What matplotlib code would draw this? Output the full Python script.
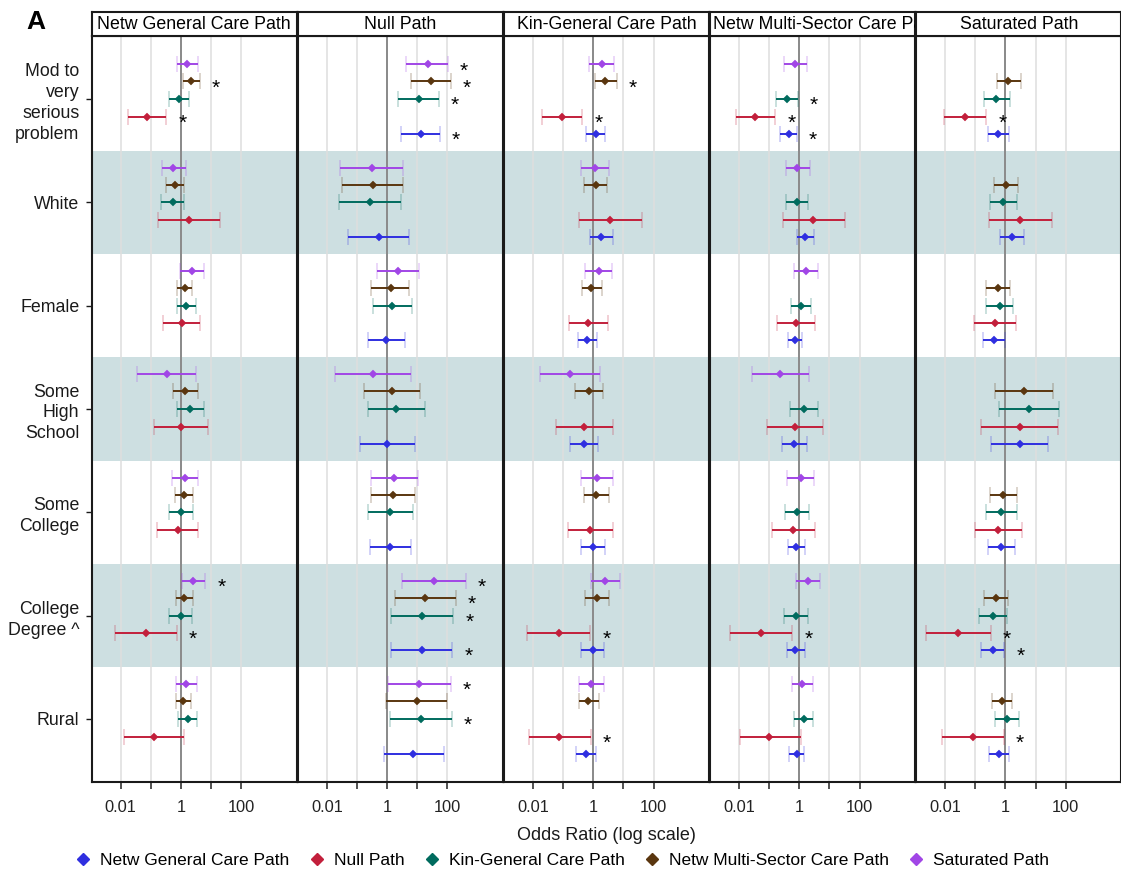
import numpy as np
import matplotlib
matplotlib.use("Agg")
import matplotlib.pyplot as plt
from matplotlib.lines import Line2D

plt.rcParams["font.family"] = ["Liberation Sans", "DejaVu Sans"]

# ── Data (odds ratios) ──────────────────────────────────────────────────────
categories = ["Mod to\nvery\nserious\nproblem", "White", "Female",
              "Some\nHigh\nSchool", "Some\nCollege", "College\nDegree ^", "Rural"]

path_keys = ["NG", "NU", "KG", "MS", "SA"]
path_names = {
    "NG": "Netw General Care Path",
    "NU": "Null Path",
    "KG": "Kin-General Care Path",
    "MS": "Netw Multi-Sector Care Path",
    "SA": "Saturated Path",
}
path_colors = {
    "NG": "#2f2fe0",
    "NU": "#c21f3b",
    "KG": "#006b5e",
    "MS": "#5a360f",
    "SA": "#a146e6",
}

# Panel 1: Netw General Care Path
ng_est = {"SA": [1.62, 0.562, 2.29, 0.331, 1.32, 2.57, 1.51],
          "MS": [2.14, 0.617, 1.35, 1.38, 1.23, 1.29, 1.20],
          "KG": [0.832, 0.525, 1.51, 2.04, 0.977, 0.977, 1.66],
          "NU": [0.076, 1.86, 1.05, 0.977, 0.776, 0.069, 0.123]}
ng_lo = {"SA": [0.72, 0.24, 0.955, 0.036, 0.49, 1.05, 0.708],
         "MS": [1.12, 0.309, 0.759, 0.55, 0.617, 0.661, 0.661],
         "KG": [0.389, 0.219, 0.741, 0.724, 0.398, 0.407, 0.813],
         "NU": [0.0178, 0.178, 0.251, 0.123, 0.162, 0.0066, 0.0129]}
ng_hi = {"SA": [3.63, 1.41, 5.62, 3.02, 3.63, 6.46, 3.31],
         "MS": [4.17, 1.23, 2.40, 3.55, 2.45, 2.51, 2.19],
         "KG": [1.82, 1.23, 3.24, 5.75, 2.51, 2.29, 3.39],
         "NU": [0.324, 19.1, 4.37, 8.13, 3.63, 0.724, 1.29]}
ng_sig = {"SA": [0, 0, 0, 0, 0, 1, 0],
          "MS": [1, 0, 0, 0, 0, 0, 0],
          "NU": [1, 0, 0, 0, 0, 1, 0]}

# Panel 2: Null Path
nu_est = {"SA": [21.9, 0.309, 2.24, 0.331, 1.66, 35.5, 11.7],
          "MS": [27.5, 0.331, 1.32, 1.41, 1.55, 18.2, 9.55],
          "KG": [11.0, 0.275, 1.45, 1.95, 1.29, 14.1, 12.9],
          "NG": [12.9, 0.537, 0.912, 1.0, 1.23, 14.1, 7.41]}
nu_lo = {"SA": [4.17, 0.028, 0.447, 0.0182, 0.288, 3.02, 1.10],
         "MS": [6.31, 0.032, 0.302, 0.166, 0.302, 1.78, 0.912],
         "KG": [2.29, 0.025, 0.331, 0.224, 0.224, 1.32, 1.29],
         "NG": [2.95, 0.052, 0.224, 0.123, 0.263, 1.38, 0.776]}
nu_hi = {"SA": [102, 3.47, 11.0, 6.31, 10.2, 417, 132],
         "MS": [129, 3.39, 5.50, 12.0, 8.13, 191, 97.7],
         "KG": [52.5, 2.95, 6.46, 17.4, 7.41, 158, 138],
         "NG": [56.2, 5.50, 3.80, 8.13, 6.03, 145, 75.9]}
nu_sig = {"SA": [1, 0, 0, 0, 0, 1, 1],
          "MS": [1, 0, 0, 0, 0, 1, 0],
          "KG": [1, 0, 0, 0, 0, 1, 1],
          "NG": [1, 0, 0, 0, 0, 1, 0]}

# Panel 3: Kin-General Care Path
kg_est = {"SA": [1.95, 1.12, 1.51, 0.166, 1.35, 2.45, 0.851],
          "MS": [2.51, 1.23, 0.832, 0.724, 1.23, 1.32, 0.692],
          "NU": [0.091, 3.63, 0.692, 0.513, 0.794, 0.071, 0.076],
          "NG": [1.20, 1.86, 0.631, 0.501, 0.977, 1.0, 0.562]}
kg_lo = {"SA": [0.724, 0.398, 0.55, 0.0174, 0.407, 0.832, 0.347],
         "MS": [1.17, 0.513, 0.417, 0.251, 0.49, 0.537, 0.339],
         "NU": [0.0195, 0.339, 0.155, 0.058, 0.148, 0.0063, 0.0072],
         "NG": [0.562, 0.794, 0.309, 0.174, 0.398, 0.407, 0.275]}
kg_hi = {"SA": [5.01, 3.24, 4.27, 1.66, 4.47, 7.76, 2.29],
         "MS": [6.03, 2.88, 1.95, 2.04, 3.24, 3.24, 1.51],
         "NU": [0.437, 39.8, 3.09, 4.37, 4.37, 0.794, 0.832],
         "NG": [2.45, 4.47, 1.35, 1.45, 2.40, 2.29, 1.20]}
kg_sig = {"MS": [1, 0, 0, 0, 0, 0, 0],
          "NU": [1, 0, 0, 0, 0, 1, 1]}

# Panel 4: Netw Multi-Sector Care Path
ms_est = {"SA": [0.741, 0.851, 1.66, 0.234, 1.10, 1.95, 1.23],
          "KG": [0.38, 0.813, 1.12, 1.38, 0.813, 0.759, 1.38],
          "NU": [0.035, 2.95, 0.759, 0.724, 0.631, 0.055, 0.102],
          "NG": [0.457, 1.58, 0.724, 0.692, 0.759, 0.741, 0.813]}
ms_lo = {"SA": [0.302, 0.372, 0.692, 0.0275, 0.398, 0.759, 0.562],
         "KG": [0.17, 0.363, 0.513, 0.49, 0.331, 0.309, 0.661],
         "NU": [0.0078, 0.295, 0.182, 0.085, 0.126, 0.0052, 0.0105],
         "NG": [0.234, 0.813, 0.417, 0.275, 0.417, 0.38, 0.457]}
ms_hi = {"SA": [1.86, 2.24, 4.27, 2.14, 3.09, 5.01, 2.75],
         "KG": [0.891, 1.95, 2.45, 4.07, 2.14, 1.95, 2.95],
         "NU": [0.162, 31.6, 3.24, 6.03, 3.24, 0.589, 1.10],
         "NG": [0.832, 3.09, 1.26, 1.78, 1.58, 1.51, 1.45]}
ms_sig = {"KG": [1, 0, 0, 0, 0, 0, 0],
          "NU": [1, 0, 0, 0, 0, 1, 0],
          "NG": [1, 0, 0, 0, 0, 0, 0]}

# Panel 5: Saturated Path
sa_est = {"MS": [1.26, 1.07, 0.589, 4.27, 0.851, 0.501, 0.759],
          "KG": [0.501, 0.832, 0.661, 5.89, 0.741, 0.38, 1.12],
          "NU": [0.046, 3.02, 0.447, 2.95, 0.589, 0.0275, 0.083],
          "NG": [0.589, 1.62, 0.417, 2.95, 0.724, 0.38, 0.617]}
sa_lo = {"MS": [0.537, 0.417, 0.234, 0.457, 0.309, 0.20, 0.347],
         "KG": [0.19, 0.309, 0.234, 0.617, 0.224, 0.129, 0.437],
         "NU": [0.0093, 0.275, 0.093, 0.155, 0.095, 0.0023, 0.0078],
         "NG": [0.257, 0.676, 0.182, 0.324, 0.269, 0.151, 0.282]}
sa_hi = {"MS": [3.24, 2.63, 1.45, 38.0, 2.51, 1.26, 1.66],
         "KG": [1.38, 2.51, 1.82, 57.5, 2.45, 1.17, 2.75],
         "NU": [0.234, 35.5, 2.19, 55.0, 3.55, 0.324, 0.891],
         "NG": [1.35, 4.27, 0.933, 26.3, 2.0, 0.912, 1.35]}
sa_sig = {"NU": [1, 0, 0, 0, 0, 1, 1],
          "NG": [0, 0, 0, 0, 0, 1, 0]}

panels = [
    ("NG", ng_est, ng_lo, ng_hi, ng_sig),
    ("NU", nu_est, nu_lo, nu_hi, nu_sig),
    ("KG", kg_est, kg_lo, kg_hi, kg_sig),
    ("MS", ms_est, ms_lo, ms_hi, ms_sig),
    ("SA", sa_est, sa_lo, sa_hi, sa_sig),
]

# vertical dodge within a row (axis is inverted: positive = lower)
dodge = {"SA": -0.335, "MS": -0.17, "KG": 0.0, "NU": 0.17, "NG": 0.335}

BAND_COLOR = "#cddfe1"
GRID_COLOR = "#dedede"
REF_COLOR = "#8a8a8a"

# ── Layout (pixel based) ────────────────────────────────────────────────────
FIG_W, FIG_H = 1121, 875
LEFT, RIGHT = 92, 1121
TOP, BOTTOM, STRIP_TOP = 36, 782, 12
GAP = 1.5

fig = plt.figure(figsize=(FIG_W / 100, FIG_H / 100), dpi=100)
pw = (RIGHT - LEFT - 4 * GAP) / 5

y_pos = np.arange(len(categories))
xticks = [0.01, 0.1, 1, 10, 100]
xticklabels = ["0.01", "", "1", "", "100"]

for i, (key, est, lo, hi, sig) in enumerate(panels):
    x0 = LEFT + i * (pw + GAP)
    ax = fig.add_axes([x0 / FIG_W, 1 - BOTTOM / FIG_H, pw / FIG_W, (BOTTOM - TOP) / FIG_H])
    sax = fig.add_axes([x0 / FIG_W, 1 - TOP / FIG_H, pw / FIG_W, (TOP - STRIP_TOP) / FIG_H])

    ax.set_xscale("log")
    ax.set_xlim(10 ** -2.95, 10 ** 3.83)
    ax.set_ylim(6.61, -0.61)

    # shaded rows
    for r in (1, 3, 5):
        ax.axhspan(r - 0.5, r + 0.5, color=BAND_COLOR, lw=0, zorder=0)
    for xt in xticks:
        ax.axvline(xt, color=GRID_COLOR, lw=1.1, zorder=1)
    ax.axvline(1, color=REF_COLOR, lw=1.4, zorder=2)

    for sk in ["SA", "MS", "KG", "NU", "NG"]:
        if sk not in est:
            continue
        e = np.array(est[sk])
        l = np.array(lo[sk])
        h = np.array(hi[sk])
        yy = y_pos + dodge[sk]
        c = path_colors[sk]
        ax.errorbar(e, yy, xerr=[e - l, h - e], fmt="D", ms=4.2, mew=0.3,
                    color=c, ecolor=c, elinewidth=1.4, capsize=5.5,
                    capthick=1.5, zorder=4)
        for j, s in enumerate(sig.get(sk, [0] * len(categories))):
            if s:
                ax.annotate("*", xy=(h[j] * 10 ** 0.53, yy[j]), xytext=(0, -8.6),
                            textcoords="offset points", ha="center", va="baseline",
                            fontsize=15, color="black", zorder=5)

    ax.set_xticks(xticks)
    ax.set_xticklabels(xticklabels)
    ax.xaxis.set_minor_locator(matplotlib.ticker.NullLocator())
    ax.tick_params(axis="x", direction="out", length=5, width=1.1,
                   labelsize=11.8, colors="#222222", pad=8)
    if i == 0:
        ax.set_yticks(y_pos)
        ax.set_yticklabels(categories, linespacing=1.3)
        ax.tick_params(axis="y", direction="out", length=4, width=1.0,
                       labelsize=12.8, colors="#1a1a1a", pad=5)
    else:
        ax.set_yticks([])
    for sp in ax.spines.values():
        sp.set_linewidth(1.5)
        sp.set_color("#1a1a1a")

    # strip label
    sax.set_xticks([])
    sax.set_yticks([])
    sax.set_facecolor("white")
    for sp in sax.spines.values():
        sp.set_linewidth(1.5)
        sp.set_color("#1a1a1a")
    name = path_names[key]
    if key == "MS":
        sax.text(0.012, 0.47, name, ha="left", va="center", fontsize=12.8,
                 transform=sax.transAxes, clip_on=True)
    else:
        sax.text(0.5, 0.47, name, ha="center", va="center", fontsize=12.8,
                 transform=sax.transAxes, clip_on=True)

fig.text(36 / FIG_W, 1 - 22 / FIG_H, "A", fontsize=19, fontweight="bold",
         ha="center", va="center")
fig.text((LEFT + RIGHT) / 2 / FIG_W, 1 - 836 / FIG_H, "Odds Ratio (log scale)",
         fontsize=13, ha="center", va="center", color="#1a1a1a")

handles = [Line2D([], [], marker="D", ms=6.5, linestyle="none",
                  color=path_colors[k], label=path_names[k]) for k in path_keys]
fig.legend(handles=handles, loc="center", bbox_to_anchor=(561 / FIG_W, 1 - 860 / FIG_H),
           ncol=5, frameon=False, fontsize=12.5, handletextpad=0.4,
           columnspacing=0.95, handlelength=1.2)

fig.savefig("out.png", dpi=100)
